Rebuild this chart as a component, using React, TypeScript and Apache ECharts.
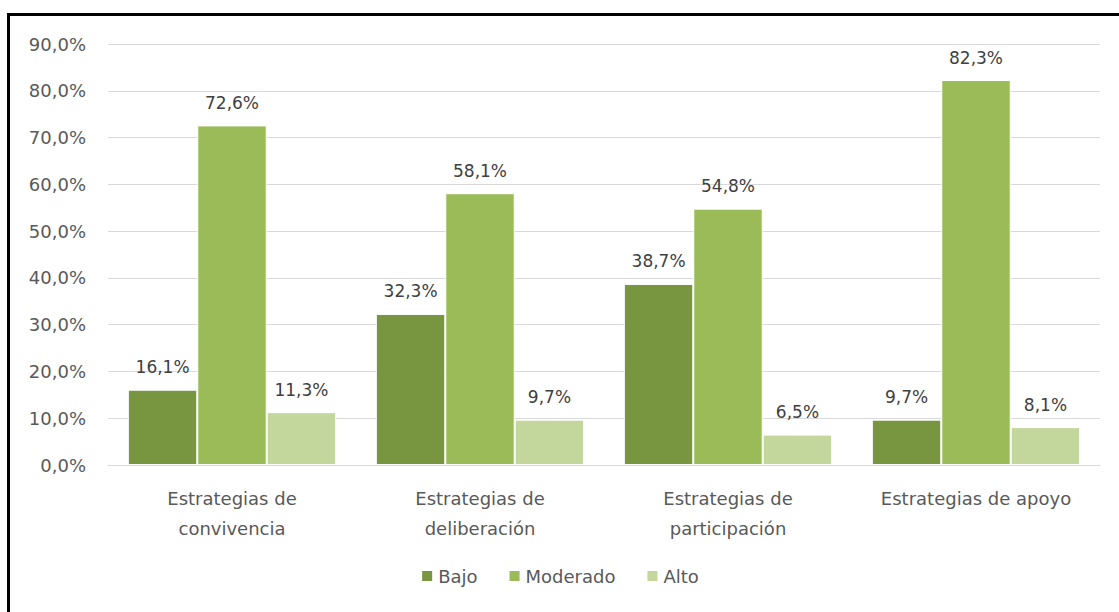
import React, { useEffect, useRef } from "react";
import * as echarts from "echarts";

const categories = ["Estrategias de\nconvivencia", "Estrategias de\ndeliberación", "Estrategias de\nparticipación", "Estrategias de apoyo"];
const bajo = [16.1, 32.3, 38.7, 9.7];
const moderado = [72.6, 58.1, 54.8, 82.3];
const alto = [11.3, 9.7, 6.5, 8.1];
const seriesNames = ["Bajo", "Moderado", "Alto"];
const colors = ["#77963F", "#9BBB59", "#C3D69B"];

const fmt = (v: number) => v.toFixed(1).replace(".", ",") + "%";
const FONT = "DejaVu Sans";

export default function App() {
  const ref = useRef<HTMLDivElement>(null);
  useEffect(() => {
    if (!ref.current) return;
    const chart = echarts.init(ref.current, undefined, { renderer: "svg" });
    const mk = (name: string, data: number[], color: string) => ({
      name,
      type: "bar",
      data,
      barGap: "0%",
      barCategoryGap: "16%",
      itemStyle: { color, borderColor: "#ffffff", borderWidth: 1 },
      label: {
        show: true,
        position: "top",
        distance: 14,
        formatter: (p: any) => fmt(p.value),
        color: "#404040",
        fontSize: 17,
        fontFamily: FONT,
      },
    });
    chart.setOption({
      animation: false,
      backgroundColor: "#ffffff",
      grid: { left: 108, right: 19, top: 44, bottom: 147, containLabel: false },
      legend: {
        data: seriesNames,
        bottom: 22,
        left: "center",
        itemWidth: 12,
        itemHeight: 12,
        itemGap: 30,
        icon: "rect",
        textStyle: { color: "#595959", fontSize: 18, fontFamily: FONT },
      },
      xAxis: {
        type: "category",
        data: categories,
        axisLine: { lineStyle: { color: "#d9d9d9", width: 1 } },
        axisTick: { show: false },
        axisLabel: {
          color: "#595959",
          fontSize: 18,
          fontFamily: FONT,
          lineHeight: 30,
          margin: 18,
          interval: 0,
        },
      },
      yAxis: {
        type: "value",
        min: 0,
        max: 90,
        interval: 10,
        axisLine: { show: false },
        axisTick: { show: false },
        splitLine: { lineStyle: { color: "#d9d9d9", width: 1 } },
        axisLabel: {
          formatter: (v: number) => fmt(v),
          color: "#595959",
          fontSize: 18,
          fontFamily: FONT,
          margin: 22,
        },
      },
      series: [mk(seriesNames[0], bajo, colors[0]), mk(seriesNames[1], moderado, colors[1]), mk(seriesNames[2], alto, colors[2])],
    });
    return () => chart.dispose();
  }, []);
  return (
    <div style={{ position: "fixed", left: 0, top: 0, width: 1119, height: 612, background: "#fff" }}>
      <div ref={ref} style={{ position: "absolute", left: 0, top: 0, width: 1119, height: 612 }} />
      <div
        style={{
          position: "absolute",
          left: 7,
          top: 13,
          width: 1200,
          height: 700,
          borderTop: "3px solid #000",
          borderLeft: "3px solid #000",
          pointerEvents: "none",
        }}
      />
    </div>
  );
}
